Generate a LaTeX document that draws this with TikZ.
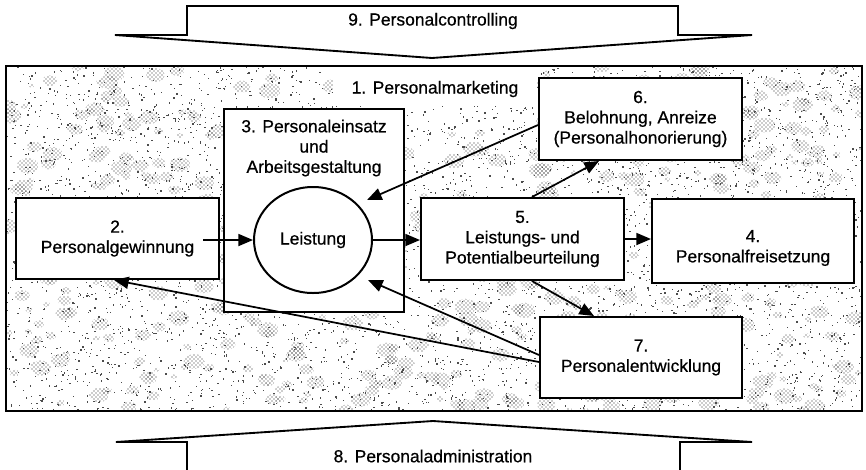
\documentclass[tikz,border=0pt]{standalone}
\usepackage{fontspec}
\setmainfont{Liberation Sans}[FakeBold=0.6]
\usetikzlibrary{shapes.geometric,arrows.meta,calc,patterns}

\begin{document}
\begin{tikzpicture}[x=0.75pt,y=-0.75pt,
  box/.style={draw,line width=1.5pt,fill=white,inner sep=0pt,align=center,
              font=\fontsize{13.1}{15.2}\selectfont},
  txt/.style={align=center,inner sep=0pt,font=\fontsize{13.1}{15.2}\selectfont},
  arr/.style={line width=1.3pt,-{Triangle[length=11pt,width=9pt]}},
  bigarrow/.style={draw,line width=1.4pt,fill=white,line join=miter},
  speck/.style={fill=black!70},
  blob/.style={pattern=crosshatch dots,pattern color=black!85}]

\useasboundingbox (0,0) rectangle (866,469);

% grainy background of the central area
\begin{scope}
  \clip (6,66) rectangle (862,411);
  \pgfmathsetseed{17}
  \foreach \k in {1,...,520}{
    \pgfmathsetmacro\xx{6+856*rnd}
    \pgfmathsetmacro\yy{66+345*rnd}
    \pgfmathsetmacro\rr{3+8*rnd}
    \fill[blob] (\xx,\yy) ellipse ({\rr} and {0.7*\rr});
  }
  \foreach \k in {1,...,5000}{
    \pgfmathsetmacro\xx{6+856*rnd}
    \pgfmathsetmacro\yy{66+345*rnd}
    \fill[speck] (\xx,\yy) rectangle ++(1.3,1.3);
  }
\end{scope}
\draw[line width=1.6pt] (6,66) rectangle (862,411);

% label of the whole area
\fill[white] (333,67) rectangle (537,106);
\node[txt] (pm) at (435,89) {1. Personalmarketing};

% controlling arrow on top, administration arrow at the bottom
\draw[bigarrow] (187,6) -- (678,6) -- (678,35) -- (752,35) -- (432,58)
   -- (115,35) -- (187,35) -- cycle;
\node[txt] (pc) at (433,21) {9. Personalcontrolling};
\draw[bigarrow] (187,480) -- (187,442) -- (116,442) -- (433,421)
   -- (752,442) -- (680,442) -- (680,480);
\node[txt] (pa) at (433,456) {8. Personaladministration};

% function boxes
\node[box,minimum width=152.25pt,minimum height=60.75pt] (b2) at (117.5,238.5)
  {2.\\Personalgewinnung};
\node[box,minimum width=135pt,minimum height=152.25pt] (b3) at (314,210.5) {};
\node[txt] (b3t) at (314,148) {3. Personaleinsatz\\und\\Arbeitsgestaltung};
\node[draw,ellipse,line width=1.5pt,inner sep=0pt,
      minimum width=88.5pt,minimum height=79.5pt] (c) at (313,240) {};
\node[txt] (ct) at (313,240) {Leistung};
\node[box,minimum width=152.25pt,minimum height=61.5pt] (b5) at (522.5,239)
  {5.\\Leistungs- und\\Potentialbeurteilung};
\node[box,minimum width=151.5pt,minimum height=63pt] (b4) at (753,241) {};
\node[txt] (b4t) at (753,248) {4.\\Personalfreisetzung};
\node[box,minimum width=152.25pt,minimum height=61.5pt] (b6) at (640.5,119)
  {6.\\Belohnung, Anreize\\(Personalhonorierung)};
\node[box,minimum width=151.5pt,minimum height=60.75pt] (b7) at (641,357.5)
  {7.\\Personalentwicklung};

% connectors
\draw[arr] ($(b2.east)+(-17,1.5)$) -- (c.west);
\draw[arr] (c.east) -- (c.east -| b5.west);
\draw[arr] (b5.east) -- (b5.east -| b4.west);
\draw[arr] ($(b5.north west)+(112,0)$) -- ($(b6.south west)+(61,0)$);
\draw[arr] ($(b6.west)+(0,6)$) -- ($(c.center)+(54,-40)$);
\draw[arr] ($(b5.south west)+(112,0)$) -- ($(b7.north west)+(55,0)$);
\draw[arr] ($(b7.west)+(0,-2.5)$) -- ($(c.center)+(55,40)$);
\draw[arr] ($(b7.west)+(0,4.5)$) -- ($(b2.south west)+(99,0)$);

\end{tikzpicture}
\end{document}
